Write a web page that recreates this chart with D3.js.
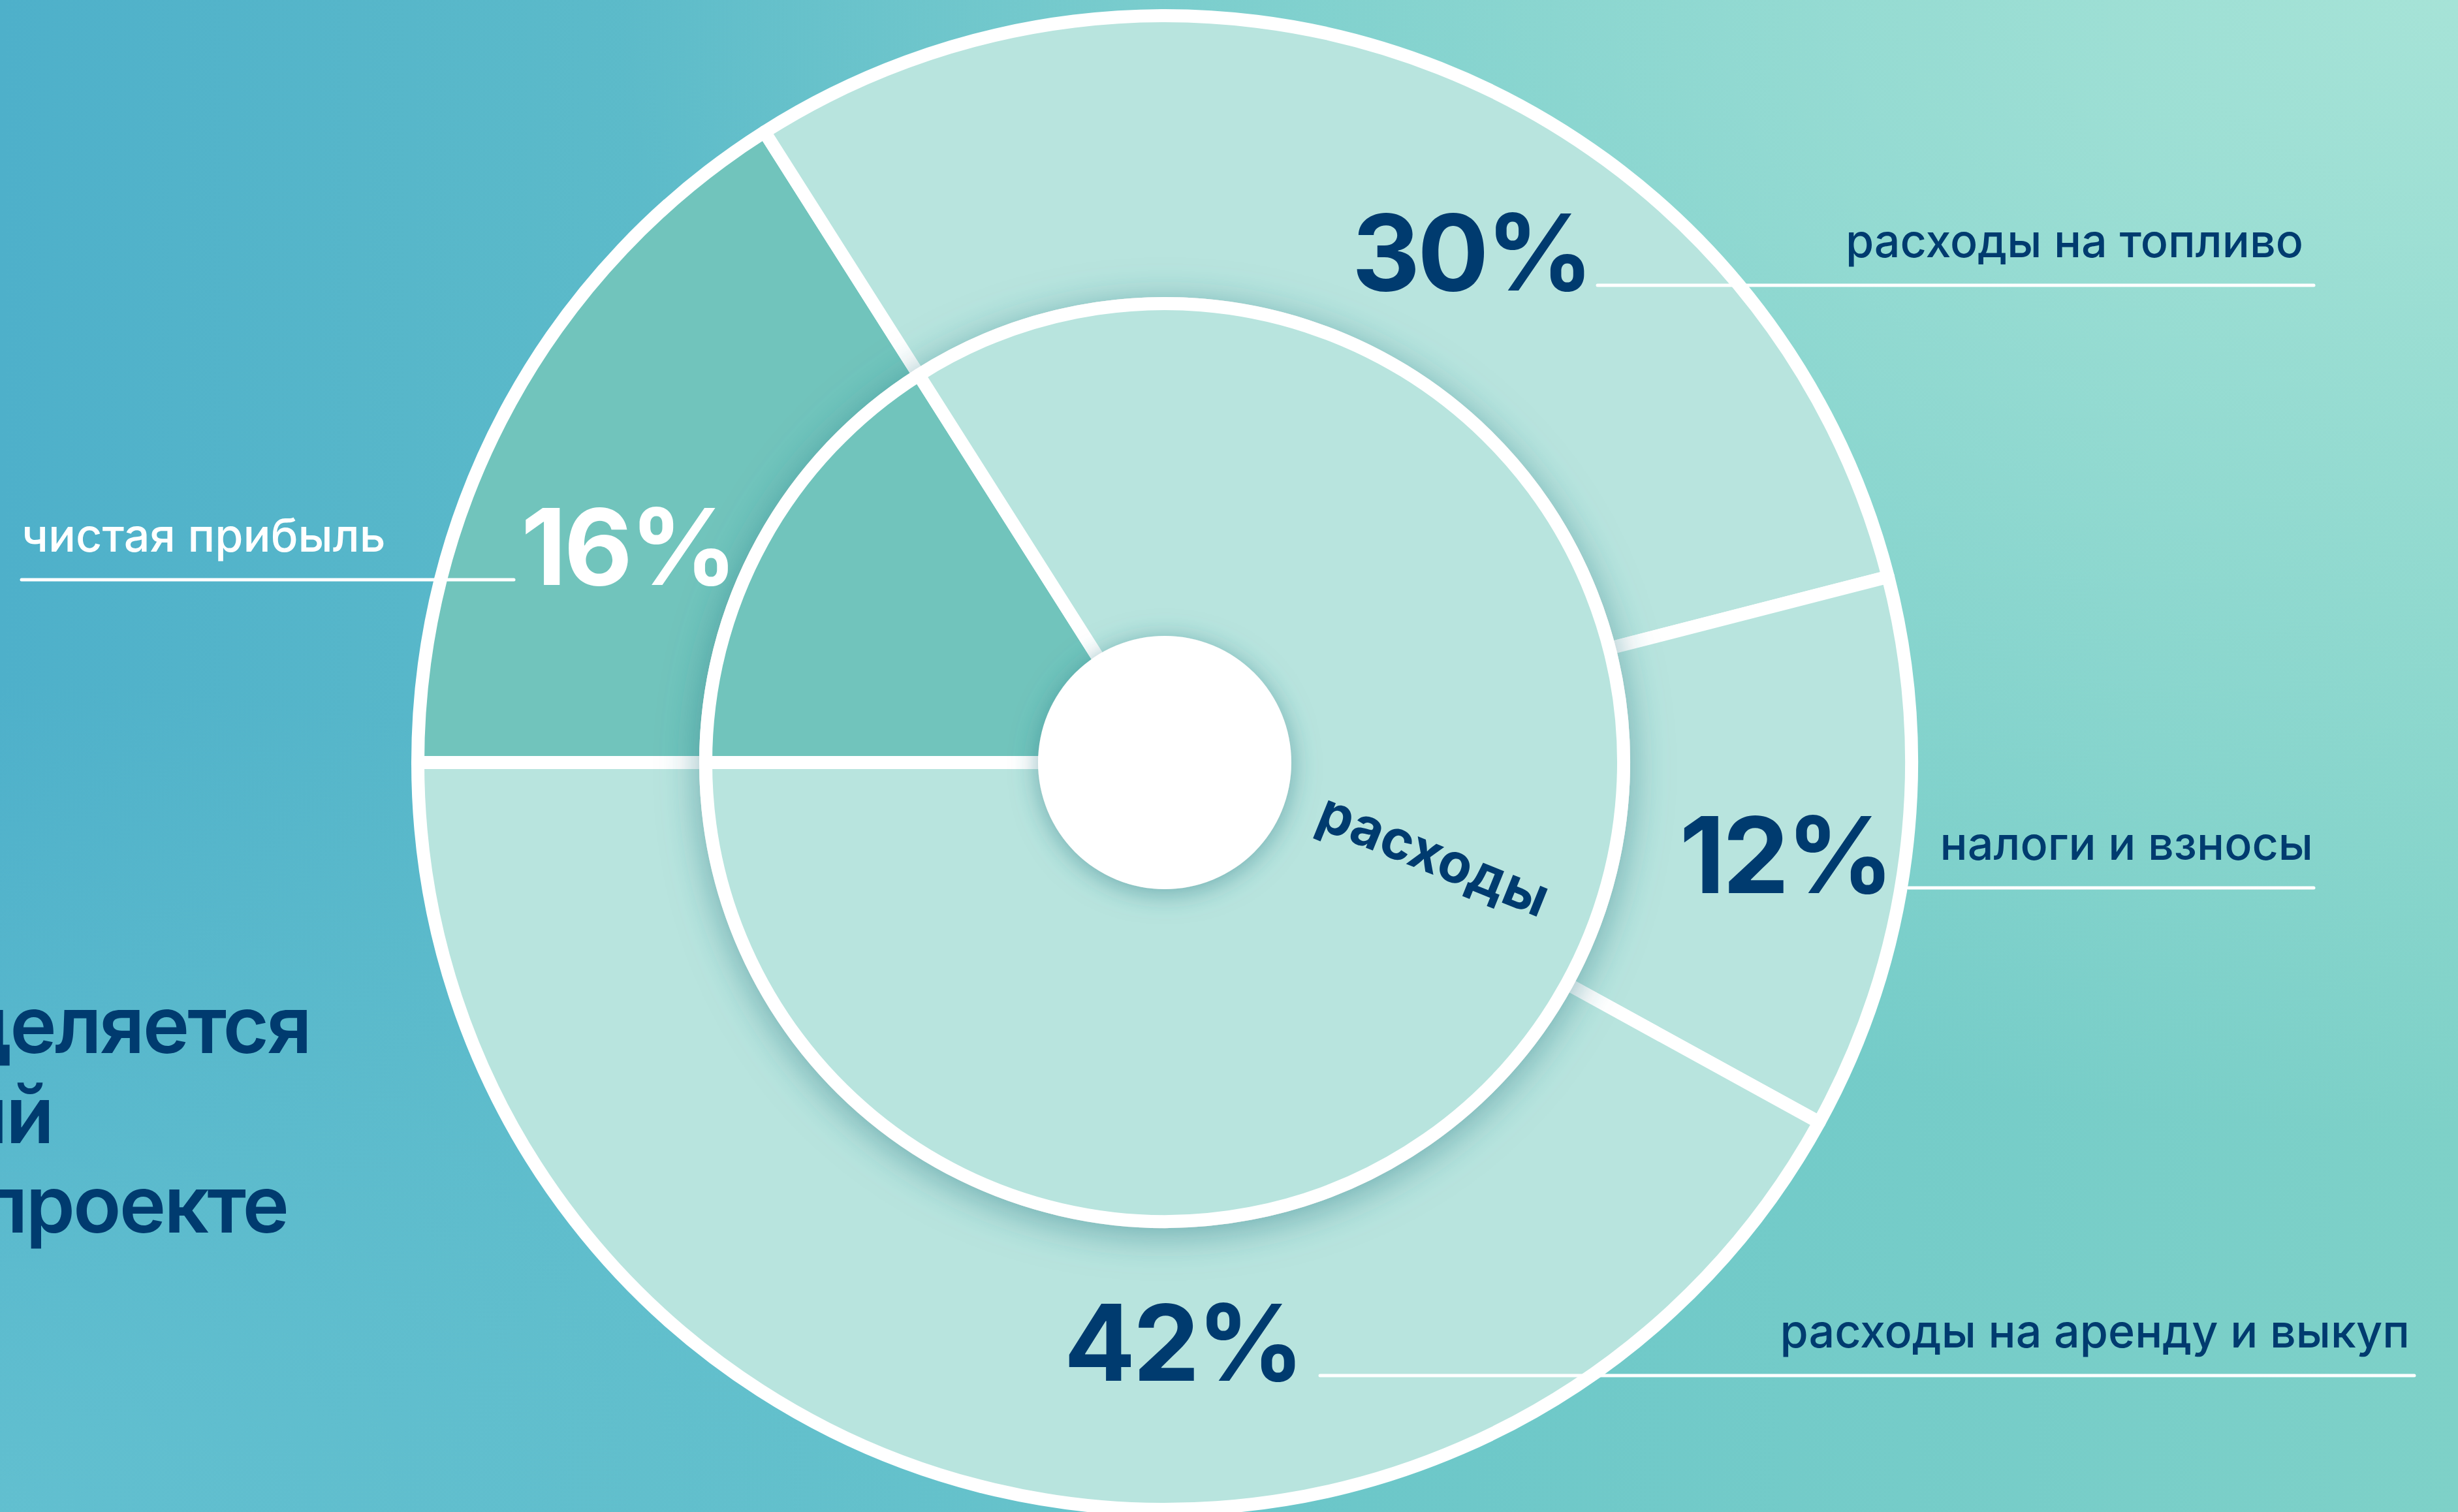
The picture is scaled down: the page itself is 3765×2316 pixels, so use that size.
<!DOCTYPE html>
<html>
<head>
<meta charset="utf-8">
<script src="https://cdn.jsdelivr.net/npm/d3@7"></script>
<style>
  html, body { margin: 0; padding: 0; overflow: hidden; }
  svg { display: block; }
</style>
</head>
<body>
<svg id="chart"></svg>
<script>
// Data
var categories = ['чистая прибыль', 'расходы на топливо', 'налоги и взносы', 'расходы на аренду и выкуп'];
var shares = [16, 30, 12, 42];
var innerCategories = ['чистая прибыль', 'расходы'];
var innerShares = [16, 84];
var headingLines = ['Как распределяется', 'доход водителей и компаний', 'в нашем проекте'];

// Settings
var W = 3765, H = 2316;
var cx = 1784, cy = 1168;
var rHole = 194, rInner = 703, rOuter = 1144;
var navy = '#003b6f';
var colors = { 'чистая прибыль': '#71c4bc', other: '#b8e4de' };

// annotation layout (leader line y, line extent, number edge, label edge)
var layout = [
    { y: 888, x0: 33, x1: 787, numX: 798, numAnchor: 'start', labX: 33, labAnchor: 'start', color: '#ffffff' },
    { y: 437, x0: 2447, x1: 3544, numX: 2437, numAnchor: 'end', labX: 3528, labAnchor: 'end', color: navy },
    { y: 1360, x0: 2923, x1: 3544, numX: 2897, numAnchor: 'end', labX: 3543, labAnchor: 'end', color: navy },
    { y: 2107, x0: 2022, x1: 3698, numX: 1994, numAnchor: 'end', labX: 3691, labAnchor: 'end', color: navy },
];

var svg = d3.select('#chart').attr('width', W).attr('height', H);
var defs = svg.append('defs');

var bg = defs.append('linearGradient').attr('id', 'bg').attr('x1', 0).attr('y1', 0).attr('x2', 1).attr('y2', 0);
bg.append('stop').attr('offset', '0%').attr('stop-color', '#4eb0ca');
bg.append('stop').attr('offset', '55%').attr('stop-color', '#6cc7c9');
bg.append('stop').attr('offset', '100%').attr('stop-color', '#7ed1c8');

var tr = defs.append('radialGradient').attr('id', 'bgTR').attr('cx', 1).attr('cy', 0).attr('r', 0.75);
tr.append('stop').attr('offset', '0%').attr('stop-color', '#a8e4d8').attr('stop-opacity', 0.95);
tr.append('stop').attr('offset', '100%').attr('stop-color', '#a8e4d8').attr('stop-opacity', 0);

var bl = defs.append('radialGradient').attr('id', 'bgBL').attr('cx', 0).attr('cy', 1).attr('r', 0.55);
bl.append('stop').attr('offset', '0%').attr('stop-color', '#6ac6d2').attr('stop-opacity', 0.7);
bl.append('stop').attr('offset', '100%').attr('stop-color', '#6ac6d2').attr('stop-opacity', 0);

defs.append('filter').attr('id', 'diskShadow')
    .attr('x', '-30%').attr('y', '-30%').attr('width', '160%').attr('height', '160%')
    .append('feDropShadow')
    .attr('dx', 0).attr('dy', 10).attr('stdDeviation', 30)
    .attr('flood-color', '#2d7e88').attr('flood-opacity', 0.55);

defs.append('filter').attr('id', 'holeShadow')
    .attr('x', '-50%').attr('y', '-50%').attr('width', '200%').attr('height', '200%')
    .append('feDropShadow')
    .attr('dx', 0).attr('dy', 6).attr('stdDeviation', 20)
    .attr('flood-color', '#2d7e88').attr('flood-opacity', 0.55);

svg.append('rect').attr('width', W).attr('height', H).attr('fill', 'url(#bg)');
svg.append('rect').attr('width', W).attr('height', H).attr('fill', 'url(#bgTR)');
svg.append('rect').attr('width', W).attr('height', H).attr('fill', 'url(#bgBL)');

// heading, cut by the left edge
var heading = svg.append('g')
    .attr('font-family', 'Inter, "Noto Sans", sans-serif')
    .attr('font-weight', 600)
    .attr('font-size', 121)
    .attr('letter-spacing', -3)
    .attr('fill', navy);
var headingEnds = [475, 80, 440];
headingLines.forEach((line, i) => {
    heading.append('text')
        .attr('x', headingEnds[i])
        .attr('y', 1613 + i * 137.5)
        .attr('text-anchor', 'end')
        .text(line);
});

var pie = d3.pie().sort(null).startAngle(-Math.PI / 2).endAngle(1.5 * Math.PI);
var fillOf = (name) => (name === 'чистая прибыль' ? colors['чистая прибыль'] : colors.other);

var chart = svg.append('g').attr('transform', `translate(${cx},${cy})`);

// outer ring
var outerArc = d3.arc().innerRadius(rInner).outerRadius(rOuter);
var outerData = pie(shares);
chart.append('g').selectAll('path')
    .data(outerData)
    .join('path')
    .attr('d', outerArc)
    .attr('fill', (d, i) => fillOf(categories[i]))
    .attr('stroke', '#ffffff')
    .attr('stroke-width', 20)
    .attr('stroke-linejoin', 'round');

// inner disk
var innerArc = d3.arc().innerRadius(0).outerRadius(rInner);
var innerG = chart.append('g').attr('filter', 'url(#diskShadow)');
innerG.selectAll('path')
    .data(pie(innerShares))
    .join('path')
    .attr('d', innerArc)
    .attr('fill', (d, i) => fillOf(innerCategories[i]))
    .attr('stroke', '#ffffff')
    .attr('stroke-width', 20)
    .attr('stroke-linejoin', 'round');

chart.append('circle')
    .attr('r', rHole)
    .attr('fill', '#ffffff')
    .attr('filter', 'url(#holeShadow)');

// inner label
var labAngle = 108.7 * Math.PI / 180, labR = 436;
chart.append('text')
    .attr('transform', `translate(${labR * Math.sin(labAngle)},${-labR * Math.cos(labAngle)}) rotate(22)`)
    .attr('text-anchor', 'middle')
    .attr('dominant-baseline', 'central')
    .attr('font-family', 'Inter, "Noto Sans", sans-serif')
    .attr('font-weight', 700)
    .attr('font-size', 84)
    .attr('fill', navy)
    .text(innerCategories[1]);

// annotations
var notes = svg.append('g').attr('font-family', 'Inter, "Noto Sans", sans-serif');
layout.forEach((l, i) => {
    notes.append('line')
        .attr('x1', l.x0).attr('x2', l.x1)
        .attr('y1', l.y).attr('y2', l.y)
        .attr('stroke', '#ffffff')
        .attr('stroke-width', 5)
        .attr('stroke-linecap', 'round');
    notes.append('text')
        .attr('x', l.numX).attr('y', l.y + 8)
        .attr('text-anchor', l.numAnchor)
        .attr('font-weight', 700)
        .attr('font-size', 162)
        .attr('letter-spacing', -4)
        .attr('fill', l.color)
        .text(`${shares[i]}%`);
    notes.append('text')
        .attr('x', l.labX).attr('y', l.y - 43)
        .attr('text-anchor', l.labAnchor)
        .attr('font-weight', 500)
        .attr('font-size', 70)
        .attr('fill', l.color)
        .text(categories[i]);
});
</script>
</body>
</html>
